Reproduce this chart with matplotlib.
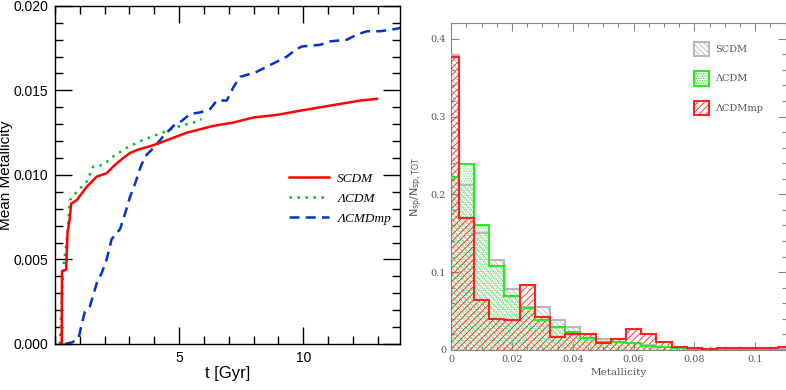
import numpy as np
import matplotlib
matplotlib.use("Agg")
import matplotlib.pyplot as plt
from matplotlib.patches import Patch
from matplotlib.ticker import MultipleLocator

# ---------------- Left panel data ----------------
t_scdm = [0.2, 0.27, 0.28, 0.45, 0.5, 0.6, 0.65, 0.87, 1.28, 1.68, 2.08, 2.42, 2.75, 3.02, 3.36,
          3.83, 4.23, 4.77, 5.31, 5.85, 6.38, 7.19, 8.0, 8.94, 9.88, 10.69, 11.49, 12.3, 12.97]
z_scdm = [0.0, 0.0, 0.0043, 0.0044, 0.0065, 0.0075, 0.0083, 0.0085, 0.0093, 0.0099, 0.0101, 0.0106,
          0.0110, 0.0113, 0.0115, 0.0117, 0.0119, 0.0122, 0.0125, 0.0127, 0.0129, 0.0131, 0.0134,
          0.01355, 0.0138, 0.0140, 0.0142, 0.0144, 0.0145]

t_lcdm = [0.2, 0.27, 0.34, 0.47, 0.54, 0.6, 0.87, 1.28, 1.54, 1.95, 2.35, 2.89, 3.43, 3.97,
          4.5, 5.04, 5.58, 5.91]
z_lcdm = [0.0, 0.0026, 0.0046, 0.0061, 0.0073, 0.0085, 0.0090, 0.0096, 0.0105, 0.0106, 0.0111,
          0.0116, 0.0120, 0.0123, 0.0126, 0.0129, 0.0131, 0.0133]

t_mp = [0.4, 0.7, 0.95, 1.08, 1.2, 1.4, 1.68, 1.88, 2.08, 2.28, 2.62, 2.82, 3.02, 3.23, 3.43,
        3.63, 3.97, 4.37, 4.77, 5.11, 5.44, 5.85, 6.25, 6.52, 6.92, 7.19, 7.46, 8.13, 8.53,
        8.94, 9.34, 9.68, 9.95, 10.69, 11.09, 11.76, 12.16, 12.57, 13.1, 13.58, 13.95]
z_mp = [0.0, 0.0001, 0.00035, 0.0012, 0.0019, 0.0022, 0.0036, 0.0042, 0.0050, 0.0062, 0.0068,
        0.0077, 0.0087, 0.0095, 0.0104, 0.0111, 0.0116, 0.0123, 0.0129, 0.0132, 0.0136, 0.0137,
        0.0139, 0.0144, 0.0144, 0.0152, 0.0158, 0.0161, 0.0164, 0.0167, 0.0170, 0.0174, 0.0176,
        0.0177, 0.0179, 0.0180, 0.0183, 0.0185, 0.0185, 0.0186, 0.0187]

# ---------------- Right panel data ----------------
bin_centers = np.round(np.arange(0, 0.1101, 0.005), 4)
h_scdm = [0.379, 0.212, 0.150, 0.115, 0.079, 0.0557, 0.0557, 0.0386, 0.030, 0.020, 0.0146, 0.0107,
          0.0086, 0.0064, 0.0043, 0.003, 0.002, 0.001, 0.001, 0.001, 0.001, 0.001, 0.001]
h_lcdm = [0.2217, 0.239, 0.160, 0.108, 0.0695, 0.0536, 0.0386, 0.029, 0.0236, 0.016, 0.0107, 0.0099,
          0.0086, 0.005, 0.0039, 0.003, 0.0017, 0.0009, 0.0005, 0.0005, 0.0005, 0.0005, 0.0005]
h_mp = [0.377, 0.169, 0.0647, 0.040, 0.038, 0.083, 0.0424, 0.017, 0.020, 0.020, 0.0094, 0.0146,
        0.027, 0.021, 0.0107, 0.0043, 0.003, 0.001, 0.002, 0.0026, 0.002, 0.002, 0.0034]

fig = plt.figure(figsize=(7.86, 3.9), dpi=100)
plt.rcParams['hatch.linewidth'] = 0.6
sans = ['Liberation Sans', 'DejaVu Sans']

# ================= Left =================
ax = fig.add_axes([0.070, 0.118, 0.439, 0.867])
ax.plot(t_scdm, z_scdm, color='#ff0000', lw=1.8, label='SCDM', zorder=3)
ax.plot(t_lcdm, z_lcdm, color='#00c020', lw=1.8, ls=(0, (1, 2.2)), label='ΛCDM', zorder=2)
ax.plot(t_mp, z_mp, color='#0033cc', lw=1.8, ls=(0, (4, 2.5)), label='ΛCMDmp', zorder=2)
ax.set_xlim(0, 13.9)
ax.set_ylim(0, 0.020)
ax.xaxis.set_major_locator(MultipleLocator(5))
ax.xaxis.set_minor_locator(MultipleLocator(1))
ax.yaxis.set_major_locator(MultipleLocator(0.005))
ax.yaxis.set_minor_locator(MultipleLocator(0.001))
ax.tick_params(which='both', direction='in', top=True, right=True, width=1, color='black')
ax.tick_params(which='major', length=12, labelsize=10, pad=5)
ax.tick_params(which='minor', length=6)
ax.set_yticks([0, 0.005, 0.010, 0.015, 0.020])
ax.set_yticklabels(['0.000', '0.005', '0.010', '0.015', '0.020'])
ax.set_xticks([5, 10])
for lab in ax.get_xticklabels() + ax.get_yticklabels():
    lab.set_family(sans)
for s in ax.spines.values():
    s.set_linewidth(1)
ax.set_xlabel('t [Gyr]', fontsize=12, family=sans, labelpad=1)
ax.set_ylabel('Mean Metallicity', fontsize=11, family=sans)
ax.yaxis.set_label_coords(-0.122, 0.5)
ax.legend(loc='center left', bbox_to_anchor=(0.645, 0.43), frameon=False,
          prop={'family': 'Liberation Serif', 'style': 'italic', 'size': 9.5},
          handlelength=3.0, labelspacing=0.6, handletextpad=0.6)

# ================= Right =================
edges = np.concatenate([bin_centers - 0.0025, [bin_centers[-1] + 0.0025]])
ax2 = fig.add_axes([0.574, 0.1026, 0.4255, 0.838])
grey, green, red = '#b8b8b8', '#22ee22', '#ff2020'
ax2.stairs(h_scdm, edges, fill=True, facecolor='none', edgecolor=grey, hatch='\\\\\\\\\\\\', lw=0, zorder=1)
ax2.stairs(h_lcdm, edges, fill=True, facecolor='none', edgecolor='#66ee66', hatch='.......', lw=0, zorder=2)
ax2.stairs(h_mp, edges, fill=True, facecolor='none', edgecolor=red, hatch='/////', lw=0, zorder=3)
ax2.stairs(h_scdm, edges, color=grey, lw=1.5, zorder=4)
ax2.stairs(h_lcdm, edges, color=green, lw=1.5, zorder=5)
ax2.stairs(h_mp, edges, color=red, lw=1.5, zorder=6)
ax2.set_xlim(0, 0.11)
ax2.set_ylim(0, 0.42)
ax2.xaxis.set_major_locator(MultipleLocator(0.02))
ax2.xaxis.set_minor_locator(MultipleLocator(0.005))
ax2.yaxis.set_major_locator(MultipleLocator(0.1))
ax2.yaxis.set_minor_locator(MultipleLocator(0.02))
ax2.set_xticks([0, 0.02, 0.04, 0.06, 0.08, 0.1])
ax2.set_xticklabels(['0', '0.02', '0.04', '0.06', '0.08', '0.1'])
ax2.set_yticks([0, 0.1, 0.2, 0.3, 0.4])
ax2.set_yticklabels(['0', '0.1', '0.2', '0.3', '0.4'])
ax2.tick_params(which='both', direction='in', top=True, right=True, color='#888888', width=0.8,
                labelcolor='#555555')
ax2.tick_params(which='major', length=6, labelsize=7)
ax2.tick_params(which='minor', length=3)
for lab in ax2.get_xticklabels() + ax2.get_yticklabels():
    lab.set_family('DejaVu Serif')
for s in ax2.spines.values():
    s.set_color('#888888')
    s.set_linewidth(0.8)
ax2.set_xlabel('Metallicity', fontsize=7.5, family='DejaVu Serif', color='#555555', labelpad=3)
ax2.set_ylabel(r'$\mathrm{N_{sp}/N_{sp,TOT}}$', fontsize=8, color='#555555', labelpad=4)
handles = [Patch(facecolor='none', edgecolor=grey, hatch='\\\\\\\\\\\\', lw=1.5, label='SCDM'),
           Patch(facecolor='none', edgecolor=green, hatch='.......', lw=1.5, label='ΛCDM'),
           Patch(facecolor='none', edgecolor=red, hatch='/////', lw=1.5, label='ΛCDMmp')]
ax2.legend(handles=handles, loc='upper left', bbox_to_anchor=(0.70, 0.97), frameon=False,
           prop={'family': 'DejaVu Serif', 'size': 7}, handlelength=1.5, handleheight=1.9,
           labelspacing=1.55, handletextpad=0.7, labelcolor='#555555')

fig.savefig('out.png', dpi=100)
